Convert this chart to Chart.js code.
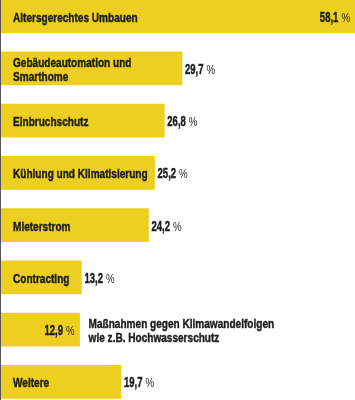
<!DOCTYPE html>
<html>
<head>
<meta charset="utf-8">
<script src="https://cdn.jsdelivr.net/npm/chart.js@4/dist/chart.umd.min.js"></script>
<style>
html,body{margin:0;padding:0;background:#fff;overflow:hidden;width:355px;height:400px;}
#wrap{position:absolute;left:0;top:-10px;width:355px;height:418px;}
</style>
</head>
<body>
<div id="wrap"><canvas id="c"></canvas></div>
<script>
const categories = [
  ["Altersgerechtes Umbauen"],
  ["Gebäudeautomation und", "Smarthome"],
  ["Einbruchschutz"],
  ["Kühlung und Klimatisierung"],
  ["Mieterstrom"],
  ["Contracting"],
  ["Maßnahmen gegen Klimawandelfolgen", "wie z.B. Hochwasserschutz"],
  ["Weitere"]
];
const values = [58.1, 29.7, 26.8, 25.2, 24.2, 13.2, 12.9, 19.7];
const valueLabels = ["58,1", "29,7", "26,8", "25,2", "24,2", "13,2", "12,9", "19,7"];

const FONT = '"Liberation Sans", Arial, sans-serif';
const TEXT = '#1c1c1c';
const SX = 0.745;  // horizontal condensing of label text
const SXN = 0.68;  // horizontal condensing of numbers

function textW(ctx, font, s, sx) { ctx.font = font; return ctx.measureText(s).width * sx; }
function drawText(ctx, font, s, x, y, sx, stroke) {
  ctx.save();
  ctx.font = font;
  ctx.translate(x, y);
  ctx.scale(sx, 1);
  ctx.fillText(s, 0, 0);
  if (stroke) {
    ctx.lineWidth = 0.45;
    ctx.strokeStyle = TEXT;
    ctx.strokeText(s, 0, 0);
  }
  ctx.restore();
}

const labelPlugin = {
  id: 'labels',
  afterDatasetsDraw(chart) {
    const ctx = chart.ctx;
    const meta = chart.getDatasetMeta(0);
    const area = chart.chartArea;
    ctx.save();
    ctx.strokeStyle = '#555';
    ctx.lineWidth = 1;
    ctx.beginPath();
    ctx.moveTo(0.5, 0);
    ctx.lineTo(0.5, chart.height);
    ctx.stroke();

    const BF = 'bold 13.5px ' + FONT;
    const NF = 'bold 14px ' + FONT;
    const PF = '13px ' + FONT;
    ctx.textBaseline = 'alphabetic';
    ctx.textAlign = 'left';
    ctx.fillStyle = TEXT;
    meta.data.forEach((bar, i) => {
      const lines = categories[i];
      const y = bar.y + 5.5;
      const x0 = bar.base;
      const x1 = bar.x;
      const bw = x1 - x0;
      const lw = Math.max(...lines.map(l => textW(ctx, BF, l, SX)));
      const nw = textW(ctx, NF, valueLabels[i], SXN);
      const pw = textW(ctx, PF, '%', SX);
      const vw = nw + 3 + pw;
      const lh = 14;
      const labelInside = lw + 14 <= bw;
      const valueInside = !labelInside || (x1 + 4 + vw > area.right);

      function drawLines(x) {
        const start = y - (lines.length - 1) * lh / 2;
        lines.forEach((l, k) => drawText(ctx, BF, l, x, start + k * lh, SX, true));
      }
      function drawValue(x) {
        drawText(ctx, NF, valueLabels[i], x, y, SXN, true);
        drawText(ctx, PF, '%', x + nw + 3, y, SX, false);
      }
      if (labelInside) {
        drawLines(x0 + 12);
        if (valueInside) drawValue(x1 - 5 - vw);
        else drawValue(x1 + 3);
      } else {
        drawValue(x1 - 5 - vw);
        drawLines(x1 + 9);
      }
    });
    ctx.restore();
  }
};

new Chart(document.getElementById('c'), {
  type: 'bar',
  data: {
    labels: categories.map(c => c.join(' ')),
    datasets: [{
      data: values,
      backgroundColor: '#ECCF21',
      borderWidth: 0,
      barThickness: 33
    }]
  },
  options: {
    indexAxis: 'y',
    responsive: true,
    maintainAspectRatio: false,
    animation: false,
    layout: { padding: { left: 1, right: 0, top: 0, bottom: 0 } },
    plugins: { legend: { display: false }, tooltip: { enabled: false } },
    scales: {
      x: { display: false, min: 0, max: 58.1 },
      y: { display: false }
    }
  },
  plugins: [labelPlugin]
});
</script>
</body>
</html>
